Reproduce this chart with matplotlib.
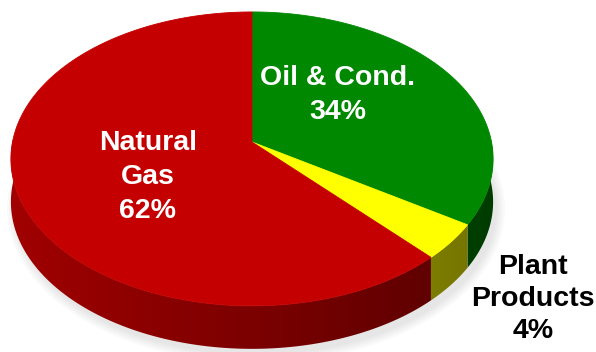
import numpy as np
import matplotlib.pyplot as plt
from matplotlib.patches import Polygon, Ellipse
from matplotlib.colors import to_rgb

# data (clockwise from 12 o'clock)
labels = ["Oil & Cond.", "Plant\nProducts", "Natural\nGas"]
shares = [34, 4, 62]
colors = ["#008800", "#ffff00", "#c40000"]

plt.rcParams["font.family"] = ["Liberation Sans", "DejaVu Sans"]

fig = plt.figure(figsize=(5.96, 3.52), dpi=100)
ax = fig.add_axes([0, 0, 1, 1])
ax.set_xlim(0, 596)
ax.set_ylim(352, 0)
ax.axis("off")

# pie geometry in pixels, with a little perspective (k)
cx, cy, A, B, k, depth = 252, 142, 239.5, 145, 0.115, 43


def pt(th, dy=0):
    t = np.radians(th)
    u, v = np.cos(t), np.sin(t)
    w = 1 + k * v
    return cx + A * u / w, cy - B * v / w + dy


def shade(x):
    return 0.82 - 0.38 * np.clip((x - 12) / 482, 0, 1)


# soft shadow
for i in range(5):
    ax.add_patch(Ellipse((cx + 4, 162 + depth + 4), 2 * 241 + 16 - 4 * i, 2 * 147 + 14 - 4 * i,
                         color="gray", alpha=0.04, lw=0, zorder=0.5))

bounds = 90 - 360 * np.concatenate([[0], np.cumsum(shares)]) / sum(shares)

# sides (gradient clipped to each front face)
xs = np.linspace(0, 596, 400)
for k_, col in enumerate(colors):
    th1, th2 = bounds[k_], bounds[k_ + 1]
    ths = np.linspace(th1, th2, 400)
    ths = ths[np.sin(np.radians(ths)) < 0.02]
    if len(ths) < 2:
        continue
    top = [pt(t) for t in ths]
    bot = [pt(t, depth) for t in ths[::-1]]
    poly = Polygon(top + bot, closed=True, fc="none", ec="none")
    ax.add_patch(poly)
    base = np.array(to_rgb(col))
    grad = shade(xs)[None, :, None] * base[None, None, :]
    im = ax.imshow(grad, extent=(0, 596, 352, 0), aspect="auto",
                   interpolation="bilinear", zorder=1.5)
    im.set_clip_path(poly)

# tops
for k_, col in enumerate(colors):
    th1, th2 = bounds[k_], bounds[k_ + 1]
    ths = np.linspace(th1, th2, 300)
    p = [(cx, cy)] + [pt(t) for t in ths]
    ax.add_patch(Polygon(p, closed=True, fc=col, ec=col, lw=0.6, zorder=2))

ax.set_xlim(0, 596)
ax.set_ylim(352, 0)

# labels
ax.text(338, 95, "Oil & Cond.\n34%", color="white", fontsize=20.5, fontweight="bold",
        ha="center", va="center", linespacing=1.38, zorder=3)
ax.text(148, 177, "Natural\nGas\n62%", color="white", fontsize=20.5, fontweight="bold",
        ha="center", va="center", linespacing=1.38, zorder=3)
ax.text(533, 299, "Plant\nProducts\n4%", color="black", fontsize=20.5, fontweight="bold",
        ha="center", va="center", linespacing=1.32, zorder=3)

fig.savefig("out.png", dpi=100)
